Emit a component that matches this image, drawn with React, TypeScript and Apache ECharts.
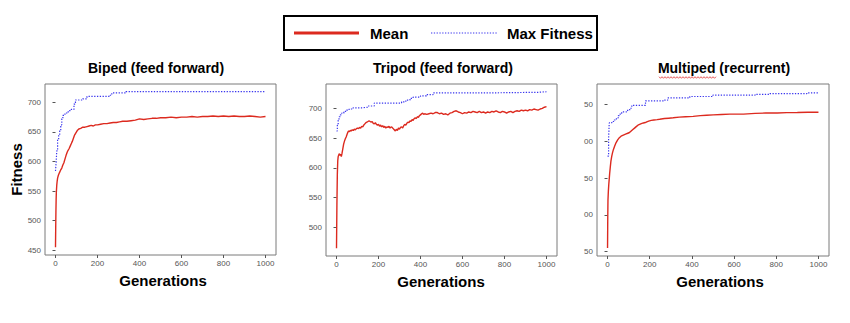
import React, { useEffect, useRef } from "react";
import * as echarts from "echarts";

// ---------- data (generation, fitness) ----------
const xTicks = [0, 200, 400, 600, 800, 1000];
const bipedTicks = [450, 500, 550, 600, 650, 700];
const tripodTicks = [500, 550, 600, 650, 700];
const multipedTicks = [450, 500, 550, 600, 650];

const subplotTitles = ["Biped (feed forward)", "Tripod (feed forward)", "Multiped (recurrent)"];
const seriesNames = ["Mean", "Max Fitness"];

const bipedMean: [number, number][] = [
  [0, 455], [1, 488], [2, 515], [3, 535], [4, 548], [6, 560], [8, 567], [10, 572], [13, 576], [16, 579],
  [20, 582], [25, 586], [30, 589], [35, 594], [40, 598], [45, 604], [50, 610], [56, 616], [60, 619], [65, 622],
  [70, 626], [75, 630], [80, 634], [85, 639], [90, 644], [95, 647], [100, 650], [105, 653], [111, 655], [120, 656],
  [130, 658], [140, 658], [150, 659], [160, 660], [170, 661], [180, 660], [190, 662], [200, 662], [215, 663], [230, 664],
  [245, 664], [260, 665], [275, 666], [290, 666], [305, 667], [320, 668], [340, 668], [360, 669], [380, 670], [400, 672],
  [420, 671], [440, 672], [460, 673], [480, 673], [500, 674], [525, 674], [550, 675], [575, 674], [600, 675], [625, 675],
  [650, 676], [675, 675], [700, 676], [725, 676], [750, 677], [775, 676], [800, 677], [825, 676], [850, 677], [875, 676],
  [900, 676], [925, 677], [950, 676], [975, 675], [1000, 676],
];
const bipedMax: [number, number][] = [
  [0, 584], [3, 598], [6, 618], [10, 636], [15, 645], [20, 652], [25, 662], [30, 672], [35, 678], [45, 682],
  [55, 684], [65, 686], [75, 688], [88, 697], [95, 704], [130, 706], [150, 710], [260, 712], [268, 716], [335, 718],
  [1000, 718],
];

const tripodMean: [number, number][] = [
  [0, 465], [2, 540], [4, 590], [6, 612], [8, 619], [11, 622], [14, 624], [17, 621], [20, 623], [23, 619],
  [26, 624], [30, 632], [34, 640], [38, 645], [42, 649], [46, 652], [50, 656], [54, 660], [58, 662], [62, 661],
  [66, 663], [70, 662], [75, 664], [80, 663], [85, 665], [90, 664], [95, 666], [100, 667], [105, 666], [110, 668],
  [115, 667], [120, 670], [125, 669], [130, 672], [135, 674], [140, 676], [145, 677], [150, 678], [155, 679], [160, 678],
  [165, 677], [170, 678], [175, 675], [180, 674], [185, 676], [190, 673], [195, 672], [200, 673], [205, 670], [210, 672],
  [215, 669], [220, 671], [225, 668], [230, 670], [235, 667], [240, 669], [245, 668], [250, 670], [255, 667], [260, 669],
  [265, 668], [270, 666], [275, 664], [280, 662], [285, 665], [290, 663], [295, 667], [300, 665], [305, 668], [310, 669],
  [315, 667], [320, 671], [325, 673], [330, 672], [335, 675], [340, 677], [345, 676], [350, 679], [355, 678], [360, 681],
  [365, 680], [370, 683], [375, 684], [380, 683], [385, 686], [390, 685], [395, 688], [400, 689], [405, 691], [410, 692],
  [415, 690], [420, 691], [430, 690], [440, 691], [450, 692], [460, 691], [470, 693], [480, 693], [490, 691], [500, 692],
  [510, 690], [520, 691], [530, 689], [540, 692], [550, 693], [560, 695], [570, 696], [580, 694], [590, 693], [600, 691],
  [610, 693], [620, 692], [630, 694], [640, 693], [650, 695], [660, 694], [670, 693], [680, 695], [690, 693], [700, 694],
  [710, 692], [720, 694], [730, 693], [740, 695], [750, 694], [760, 696], [770, 694], [780, 693], [790, 695], [800, 694],
  [810, 692], [820, 694], [830, 695], [840, 693], [850, 695], [860, 696], [870, 695], [880, 697], [890, 696], [900, 697],
  [910, 696], [920, 698], [930, 697], [940, 699], [950, 698], [960, 697], [970, 699], [980, 700], [990, 702], [1000, 703],
];
const tripodMax: [number, number][] = [
  [0, 662], [4, 672], [8, 680], [12, 686], [18, 689], [25, 692], [35, 695], [48, 697], [60, 699], [79, 701],
  [120, 702], [150, 704], [180, 709], [300, 709], [310, 711], [330, 714], [350, 717], [365, 719], [400, 721], [428, 723],
  [460, 726], [700, 726], [710, 727], [950, 727], [960, 728], [1000, 728],
];

const multipedMean: [number, number][] = [
  [0, 455], [1, 495], [2, 520], [4, 533], [6, 542], [8, 549], [10, 556], [13, 565], [16, 573], [20, 580],
  [24, 585], [28, 589], [33, 593], [40, 598], [48, 602], [56, 605], [64, 607], [72, 608], [80, 609], [88, 610],
  [96, 611], [104, 612], [112, 614], [120, 616], [128, 618], [136, 620], [144, 622], [152, 623], [160, 624], [170, 625],
  [183, 626], [195, 627.5], [207, 628.5], [220, 629], [235, 629.5], [247, 630], [270, 631], [290, 631.5], [311, 632], [340, 633],
  [370, 633.5], [406, 634], [440, 635], [470, 635.5], [501, 636], [540, 636.5], [580, 637], [645, 637], [700, 638], [750, 638.5],
  [805, 638.6], [850, 639], [900, 639.2], [950, 639.5], [1000, 639.5],
];
const multipedMax: [number, number][] = [
  [0, 580], [5, 604], [8, 625], [20, 627], [32, 629], [42, 632], [51, 635], [60, 638], [67, 640], [90, 642],
  [105, 645], [115, 649], [170, 649], [180, 655], [270, 656], [285, 659], [390, 661], [500, 663], [680, 663], [700, 664],
  [770, 665], [945, 666], [1000, 667],
];

const FONT = "Liberation Sans, Arial, Helvetica, sans-serif";
const RED = "#dc2a1f";
const BLUE = "#3a36ee";

export default function App() {
  const ref = useRef<HTMLDivElement>(null);
  useEffect(() => {
    if (!ref.current) return;
    const chart = echarts.init(ref.current, undefined, { renderer: "svg" });

    const grids = [
      { left: 45, top: 84, width: 231, height: 171 },
      { left: 326, top: 84, width: 231, height: 172 },
      { left: 597, top: 84, width: 232, height: 172 },
    ];
    const yRanges = [
      { min: 442, max: 731, ticks: bipedTicks },
      { min: 452, max: 741, ticks: tripodTicks },
      { min: 444, max: 678, ticks: multipedTicks },
    ];
    const means = [bipedMean, tripodMean, multipedMean];
    const maxes = [bipedMax, tripodMax, multipedMax];
    const nameCenters = [163, 441, 720];
    const titleCenters = [156, 443, 724];

    const squiggle: number[][] = [];
    for (let x = 659; x <= 716; x += 1.5) {
      squiggle.push([x, 77.5 + (Math.round((x - 659) / 1.5) % 2 === 0 ? -0.8 : 0.8)]);
    }

    chart.setOption({
      animation: false,
      backgroundColor: "#fff",
      grid: grids.map((g) => ({
        ...g,
        show: true,
        borderColor: "#7a7a7a",
        borderWidth: 1,
        backgroundColor: "#fff",
      })),
      xAxis: grids.map((_, i) => ({
        type: "value",
        gridIndex: i,
        min: -50,
        max: 1050,
        splitLine: { show: false },
        axisLine: { show: false },
        axisTick: { show: true, length: 3, lineStyle: { color: "#555" }, customValues: xTicks },
        axisLabel: {
          customValues: xTicks,
          fontSize: 8,
          color: "#555",
          margin: 4,
          fontFamily: FONT,
          formatter: (v: number) => String(v),
        },
        name: "Generations",
        nameLocation: "middle",
        nameGap: 18,
        nameTextStyle: {
          fontSize: 15,
          fontWeight: "bold",
          color: "#000",
          fontFamily: FONT,
          verticalAlign: "top",
          padding: [0, 0, 0, (nameCenters[i] - (grids[i].left + grids[i].width / 2)) * 2],
        },
      })),
      yAxis: grids.map((_, i) => ({
        type: "value",
        gridIndex: i,
        min: yRanges[i].min,
        max: yRanges[i].max,
        splitLine: { show: false },
        axisLine: { show: false },
        axisTick: { show: true, length: 3, lineStyle: { color: "#555" }, customValues: yRanges[i].ticks },
        axisLabel: {
          customValues: yRanges[i].ticks,
          fontSize: 8,
          color: "#555",
          margin: 4,
          fontFamily: FONT,
          formatter: i === 2 ? (v: number) => String(v).slice(-2) : (v: number) => String(v),
        },
        name: i === 0 ? "Fitness" : "",
        nameLocation: "middle",
        nameRotate: 90,
        nameGap: 20,
        nameTextStyle: { fontSize: 15, fontWeight: "bold", color: "#000", fontFamily: FONT },
      })),
      series: [
        ...maxes.map((d, i) => ({
          name: seriesNames[1],
          type: "line",
          xAxisIndex: i,
          yAxisIndex: i,
          data: d,
          step: "end",
          showSymbol: false,
          symbol: "none",
          lineStyle: { color: BLUE, width: 1.2, type: [1.3, 1.5] },
          z: 2,
        })),
        ...means.map((d, i) => ({
          name: seriesNames[0],
          type: "line",
          xAxisIndex: i,
          yAxisIndex: i,
          data: d,
          showSymbol: false,
          symbol: "none",
          lineStyle: { color: RED, width: 1.4 },
          z: 3,
        })),
      ],
      graphic: [
        {
          type: "rect",
          shape: { x: 284, y: 16, width: 313, height: 34 },
          style: { fill: "#fff", stroke: "#000", lineWidth: 2 },
        },
        {
          type: "line",
          shape: { x1: 294, y1: 33, x2: 359, y2: 33 },
          style: { stroke: RED, lineWidth: 3 },
        },
        {
          type: "text",
          x: 370,
          y: 33,
          style: { text: seriesNames[0], font: `bold 15px ${FONT}`, fill: "#000", verticalAlign: "middle" },
        },
        {
          type: "line",
          shape: { x1: 431, y1: 33, x2: 497, y2: 33 },
          style: { stroke: BLUE, lineWidth: 1.2, lineDash: [1.3, 1.5] },
        },
        {
          type: "text",
          x: 507,
          y: 33,
          style: { text: seriesNames[1], font: `bold 15px ${FONT}`, fill: "#000", verticalAlign: "middle" },
        },
        ...subplotTitles.map((t, i) => ({
          type: "text",
          x: titleCenters[i],
          y: 68,
          style: { text: t, font: `bold 14px ${FONT}`, fill: "#000", align: "center", verticalAlign: "middle" },
        })),
        {
          type: "polyline",
          shape: { points: squiggle },
          style: { stroke: "#e03030", lineWidth: 0.8, fill: "none" },
        },
      ],
    });
    return () => chart.dispose();
  }, []);
  return (
    <div
      ref={ref}
      style={{ position: "fixed", left: 0, top: 0, width: 850, height: 323, background: "#fff" }}
    />
  );
}
